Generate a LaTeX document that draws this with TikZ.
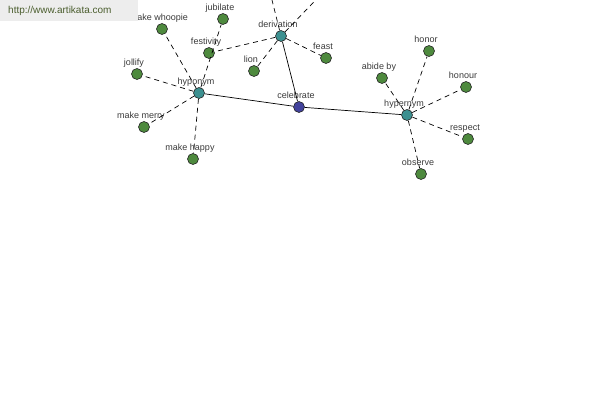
\documentclass[tikz,border=0pt]{standalone}
\usepackage{fontspec}
\setmainfont{Liberation Sans}
\definecolor{wgreen}{HTML}{4E8A3E}
\definecolor{rteal}{HTML}{3C9090}
\definecolor{cnavy}{HTML}{42429C}
\definecolor{lgray}{HTML}{3A3A3A}
\definecolor{urlc}{HTML}{4B5E2E}
\tikzset{w/.style={draw=black!85,circle,fill=wgreen,minimum size=11pt,inner sep=0pt,line width=0.6pt},
 r/.style={w,fill=rteal},c/.style={w,fill=cnavy},
 lb/.style={font=\fontsize{9}{9}\selectfont,text=lgray,inner sep=0pt,text height=7pt,text depth=2pt,xshift=-3pt},
 every label/.style={lb},label distance=1pt,
 sl/.style={line width=0.7pt},dl/.style={line width=0.7pt,dash pattern=on 5pt off 4pt},
 wm/.style={fill=black!7,anchor=north west,minimum height=21pt,text width=122pt,inner xsep=8pt,inner ysep=0pt,
  font=\fontsize{10}{10}\selectfont,text=urlc}}
\begin{document}
\begin{tikzpicture}[x=1pt,y=-1pt]
\useasboundingbox(0,0)rectangle(600,400);\clip(0,0)rectangle(600,400);
% centre and relation nodes
\node[c,label=above:celebrate](cel)at(299,107){};\node[r,label=above:hyponym](hypo)at(199,93){};
\node[r,label=above:derivation](der)at(281,36){};\node[r,label=above:hypernym](hyper)at(407,115){};
% hyponyms
\node[w,label=above:make whoopie](whoop)at(162,29){};\node[w,label=above:jubilate](jub)at(223,19){};
\node[w,label=above:jollify](jol)at(137,74){};\node[w,label=above:make merry](merry)at(144,127){};
\node[w,label=above:make happy](happy)at(193,159){};
% derivations
\node[w,label=above:festivity](fest)at(209,53){};\node[w,label=above:lion](lion)at(254,71){};
\node[w,label=above:feast](feast)at(326,58){};\coordinate(d1)at(262,-40);\coordinate(d2)at(340,-25);
% hypernyms
\node[w,label=above:abide by](abide)at(382,78){};\node[w,label=above:honor](honor)at(429,51){};
\node[w,label=above:honour](honour)at(466,87){};\node[w,label=above:respect](resp)at(468,139){};
\node[w,label=above:observe](obs)at(421,174){};
\draw[sl](cel)--(hypo);\draw[sl](cel)--(der);\draw[sl](cel)--(hyper);
\foreach \n in {whoop,jub,jol,merry,happy}{\draw[dl](hypo)--(\n);}
\foreach \n in {fest,lion,feast,d1,d2}{\draw[dl](der)--(\n);}
\foreach \n in {abide,honor,honour,resp,obs}{\draw[dl](hyper)--(\n);}
\node[wm](url)at(0,0){http://www.artikata.com};
\end{tikzpicture}
\end{document}
